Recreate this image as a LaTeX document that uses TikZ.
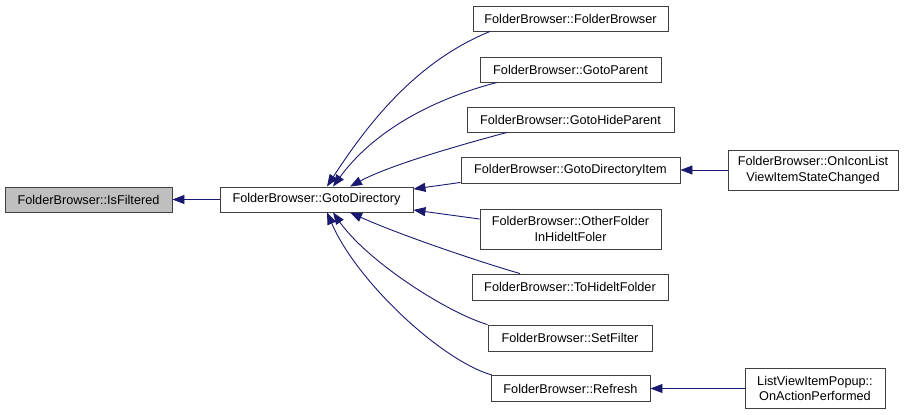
\documentclass[tikz,border=0pt]{standalone}
\usepackage{fontspec}
\setmainfont{Liberation Sans}
\usetikzlibrary{arrows.meta}
\definecolor{edgeblue}{RGB}{25, 25, 112}
\definecolor{focusgray}{RGB}{191, 191, 191}

\begin{document}
\begin{tikzpicture}[
    x=1pt, y=-1pt,
    >={Triangle[length=12pt, width=9pt]},
    fn/.style={draw=black!75, fill=white, line width=0.9pt, inner sep=0pt,
               minimum height=25pt, align=center,
               font=\fontsize{12.7}{15.5}\selectfont},
    call/.style={->, edgeblue, line width=0.9pt},
]
\useasboundingbox (0,0) rectangle (908,415);

% --- Function in focus and its direct caller ---
\node[fn, fill=focusgray, minimum width=167pt] (isfiltered) at (88.5, 199.5)
    {FolderBrowser::IsFiltered};
\node[fn, minimum width=193pt] (gotodir) at (316.5, 199.5)
    {FolderBrowser::GotoDirectory};

% --- Callers of GotoDirectory ---
\node[fn, minimum width=195pt] (fbctor) at (570.5, 18.5)
    {FolderBrowser::FolderBrowser};
\node[fn, minimum width=181pt] (gotoparent) at (570.5, 69.5)
    {FolderBrowser::GotoParent};
\node[fn, minimum width=207pt] (gotohide) at (570.5, 119.5)
    {FolderBrowser::GotoHideParent};
\node[fn, minimum width=219pt, minimum height=26pt] (gotoitem) at (570.5, 170)
    {FolderBrowser::GotoDirectoryItem};
\node[fn, minimum width=181pt, minimum height=40pt] (otherfolder) at (570.5, 229)
    {FolderBrowser::OtherFolder\\InHideltFoler};
\node[fn, minimum width=196pt, minimum height=26pt] (tohide) at (570, 287)
    {FolderBrowser::ToHideltFolder};
\node[fn, minimum width=164pt, minimum height=26pt] (setfilter) at (570, 338)
    {FolderBrowser::SetFilter};
\node[fn, minimum width=159pt, minimum height=26pt] (refresh) at (570.5, 388.5)
    {FolderBrowser::Refresh};

% --- Second-level callers ---
\node[fn, minimum width=170pt, minimum height=40pt] (oniconlist) at (813, 170)
    {FolderBrowser::OnIconList\\ViewItemStateChanged};
\node[fn, minimum width=140pt, minimum height=40pt] (popup) at (815, 388.5)
    {ListViewItemPopup::\\OnActionPerformed};

% --- Call edges ---
\draw[call] (gotodir.west) -- (isfiltered.east);

\draw[call] ([xshift=-80.5pt]fbctor.south)
    .. controls (420, 60) and (372, 117) .. ([xshift=10.5pt]gotodir.north);
\draw[call] ([xshift=-73.5pt]gotoparent.south)
    .. controls (430, 100) and (373, 132) .. ([xshift=16.5pt]gotodir.north);
\draw[call] ([xshift=-63.5pt]gotohide.south)
    .. controls (460, 145) and (390, 165) .. ([xshift=33.5pt]gotodir.north);
\draw[call] ([yshift=1pt]gotoitem.south west) -- ([yshift=10.5pt]gotodir.east);
\draw[call] ([yshift=10pt]otherfolder.west) -- ([yshift=-10.5pt]gotodir.east);
\draw[call] ([xshift=-50pt]tohide.north)
    .. controls (480, 262) and (400, 235) .. ([xshift=33.5pt]gotodir.south);
\draw[call] (setfilter.north west)
    .. controls (448, 313) and (368, 262) .. ([xshift=16.5pt]gotodir.south);
\draw[call] ([xshift=1.5pt]refresh.north west)
    .. controls (442, 361) and (357, 282) .. ([xshift=10.5pt]gotodir.south);

\draw[call] (oniconlist.west) -- (gotoitem.east);
\draw[call] (popup.west) -- (refresh.east);

\end{tikzpicture}
\end{document}
